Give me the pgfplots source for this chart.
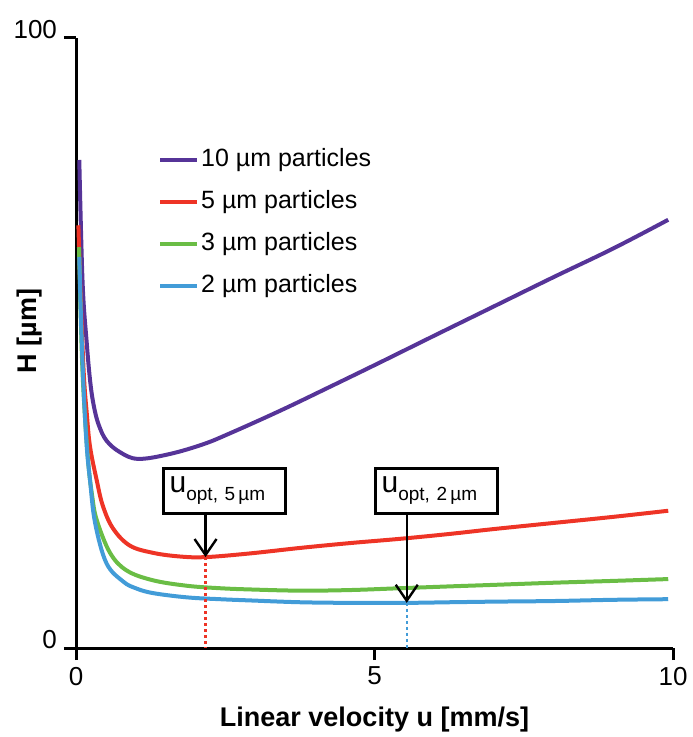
\documentclass[border=0pt]{standalone}
\usepackage{fontspec}
\setmainfont{Liberation Sans}
\usepackage{pgfplots}
\pgfplotsset{compat=1.18}
\usetikzlibrary{arrows.meta,calc}

\definecolor{cPurple}{RGB}{86,52,152}
\definecolor{cRed}{RGB}{238,52,38}
\definecolor{cGreen}{RGB}{106,189,69}
\definecolor{cBlue}{RGB}{66,156,216}

\newcommand{\uopt}[1]{{\fontsize{15}{15}\selectfont u}\raisebox{-4pt}{\fontsize{9.5}{10}\selectfont opt, #1\,µm}}

\begin{document}
\begin{tikzpicture}
\begin{axis}[
  scale only axis,
  width=298.5pt, height=305pt,
  xmin=0, xmax=10, ymin=0, ymax=100,
  axis lines=left,
  axis line style={-, line width=1.5pt},
  xtick={0,5,10}, ytick={0,100},
  tick align=outside,
  major tick length=6pt,
  tick style={line width=1.5pt, black},
  /pgf/number format/assume math mode=true,
  ticklabel style={font=\fontsize{13}{15}\selectfont},
  yticklabel style={yshift=4pt},
  xlabel={\textbf{Linear velocity u [mm/s]}},
  ylabel={\textbf{H [µm]}},
  label style={font=\fontsize{13.5}{15}\selectfont},
  xlabel style={at={(axis description cs:0.5,0)}, anchor=center, yshift=-36pt},
  ylabel style={at={(axis description cs:0,0.52)}, anchor=center, yshift=23pt},
  legend style={draw=none, fill=none, at={(axis cs:1.37,82.3)}, anchor=north west,
    inner sep=0pt, row sep=7pt, font=\fontsize{12.5}{14}\selectfont,
    nodes={inner sep=1pt, text height=9pt, text depth=3pt}},
  legend cell align=left,
  legend image code/.code={\draw[#1] (0pt,0pt) -- (18.5pt,0pt);},
  clip=false,
  every axis plot/.append style={line width=2pt, smooth, tension=0.6},
]
% 10 um
\addplot[cPurple] coordinates {
  (0.055,80) (0.11,60) (0.18,50) (0.24,43.5) (0.3,39.6) (0.38,36.6) (0.51,34.0)
  (0.737,32.1) (1.04,31.0) (1.57,31.8) (2.13,33.4) (2.58,35.2) (3.42,38.9)
  (4.25,42.8) (5.09,46.8) (6,51.2) (7,56.0) (8,60.8) (9,65.5) (9.92,70.2)
};
\addlegendentry{10 µm particles}
% 5 um
\addplot[cRed] coordinates {
  (0.04,69.3) (0.08,57) (0.13,45) (0.18,38.5) (0.235,33) (0.347,27.5) (0.45,23.3)
  (0.62,19.6) (0.9,16.8) (1.29,15.6) (1.74,15.0) (2.17,14.9) (2.91,15.5)
  (3.75,16.4) (4.59,17.2) (5.43,17.9) (6.26,18.7) (7,19.5) (8,20.5) (9,21.5) (9.92,22.5)
};
\addlegendentry{5 µm particles}
% 3 um
\addplot[cGreen] coordinates {
  (0.05,65.7) (0.08,54) (0.12,43) (0.2,31) (0.27,25) (0.347,21.0) (0.57,15.6)
  (0.85,12.7) (1.29,11.1) (1.86,10.2) (2.41,9.8) (2.91,9.6) (3.75,9.4)
  (4.59,9.5) (5.43,9.8) (6.26,10.1) (7,10.35) (8,10.7) (9,11.0) (9.92,11.3)
};
\addlegendentry{3 µm particles}
% 2 um
\addplot[cBlue] coordinates {
  (0.055,64.1) (0.09,52) (0.134,41.1) (0.18,33) (0.235,27.5) (0.32,20.5) (0.51,13.9)
  (0.79,10.9) (1.0,9.8) (1.29,9.0) (1.86,8.3) (2.41,8.0) (2.91,7.8) (3.75,7.5) (4.59,7.4)
  (5.54,7.4) (6.26,7.5) (7,7.6) (8,7.7) (9,7.9) (9.92,8.0)
};
\addlegendentry{2 µm particles}

% optimum markers
\draw[cRed, line width=1.2pt, dash pattern=on 1.5pt off 1.5pt] (axis cs:2.17,14.9) -- (axis cs:2.17,0);
\draw[cBlue, line width=1.2pt, dash pattern=on 1.5pt off 1.5pt] (axis cs:5.54,7.4) -- (axis cs:5.54,0);
\draw[line width=1.2pt, -{Straight Barb[length=8pt,width=11pt,line width=1.2pt]}]
  (axis cs:2.17,22.1) -- (axis cs:2.17,14.9);
\draw[line width=1.2pt, -{Straight Barb[length=8pt,width=11pt,line width=1.2pt]}]
  (axis cs:5.54,22.1) -- (axis cs:5.54,7.4);
\node[draw, line width=1.5pt, fill=white, text width=55pt, inner sep=3pt,
  minimum height=22.5pt, align=left] at (axis cs:2.49,25.8) {\uopt{5}};
\node[draw, line width=1.5pt, fill=white, text width=55pt, inner sep=3pt,
  minimum height=22.5pt, align=left] at (axis cs:6.04,25.8) {\uopt{2}};
\end{axis}
\pgfresetboundingbox
\path[use as bounding box] ($(current axis.south west)+(-38pt,-44.5pt)$)
  rectangle ($(current axis.north east)+(9.5pt,19pt)$);
\end{tikzpicture}
\end{document}
